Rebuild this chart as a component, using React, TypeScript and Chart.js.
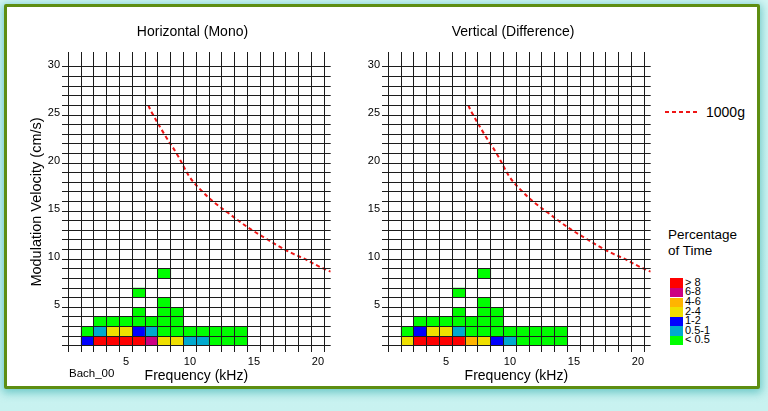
import React, { useEffect, useRef } from 'react';
import { Chart, registerables } from 'chart.js';

Chart.register(...registerables);

const FONT = '"Liberation Sans", Arial, Helvetica, sans-serif';
Chart.defaults.font.family = FONT;

// Frequency columns (kHz), velocity rows (cm/s, lower edge of each row)
const frequencies = [1, 2, 3, 4, 5, 6, 7, 8, 9, 10, 11, 12, 13, 14, 15, 16, 17, 18, 19, 20];
const velocityRows = [1, 2, 3, 4, 5, 6, 7, 8];
const velocityTicks = [1, 2, 3, 4, 5, 6, 7, 8, 9, 10, 11, 12, 13, 14, 15, 16, 17, 18, 19, 20, 21, 22, 23, 24, 25, 26, 27, 28, 29, 30];
const freqLabels = [5, 10, 15, 20];
const velocityLabels = [5, 10, 15, 20, 25, 30];

// Percentage-of-time classes (index = level)
const levelLabels = ['< 0.5', '0.5-1', '1-2', '2-4', '4-6', '6-8', '> 8'];
const levelColors = ['#00ff00', '#00a9cf', '#0000ff', '#efdf00', '#ffb400', '#cc0082', '#ff0000'];

const _ = null;
// Horizontal (Mono): level per frequency column, one array per velocity row
const monoRow1 = [_, 2, 6, 6, 6, 6, 5, 3, 3, 1, 1, 0, 0, 0, _, _, _, _, _, _];
const monoRow2 = [_, 0, 1, 3, 3, 2, 1, 0, 0, 0, 0, 0, 0, 0, _, _, _, _, _, _];
const monoRow3 = [_, _, 0, 0, 0, 0, 0, 0, 0, _, _, _, _, _, _, _, _, _, _, _];
const monoRow4 = [_, _, _, _, _, 0, _, 0, 0, _, _, _, _, _, _, _, _, _, _, _];
const monoRow5 = [_, _, _, _, _, _, _, 0, _, _, _, _, _, _, _, _, _, _, _, _];
const monoRow6 = [_, _, _, _, _, 0, _, _, _, _, _, _, _, _, _, _, _, _, _, _];
const monoRow7 = [_, _, _, _, _, _, _, _, _, _, _, _, _, _, _, _, _, _, _, _];
const monoRow8 = [_, _, _, _, _, _, _, 0, _, _, _, _, _, _, _, _, _, _, _, _];

// Vertical (Difference)
const diffRow1 = [_, 3, 6, 6, 6, 6, 4, 3, 2, 1, 0, 0, 0, 0, _, _, _, _, _, _];
const diffRow2 = [_, 0, 2, 3, 3, 1, 0, 0, 0, 0, 0, 0, 0, 0, _, _, _, _, _, _];
const diffRow3 = [_, _, 0, 0, 0, 0, 0, 0, 0, _, _, _, _, _, _, _, _, _, _, _];
const diffRow4 = [_, _, _, _, _, 0, _, 0, 0, _, _, _, _, _, _, _, _, _, _, _];
const diffRow5 = [_, _, _, _, _, _, _, 0, _, _, _, _, _, _, _, _, _, _, _, _];
const diffRow6 = [_, _, _, _, _, 0, _, _, _, _, _, _, _, _, _, _, _, _, _, _];
const diffRow7 = [_, _, _, _, _, _, _, _, _, _, _, _, _, _, _, _, _, _, _, _];
const diffRow8 = [_, _, _, _, _, _, _, 0, _, _, _, _, _, _, _, _, _, _, _, _];

// 1000g limit curve
const curveFreq = [6.75, 7, 8, 9, 10, 11, 12, 13, 14, 15, 16, 17, 18, 19, 20, 21];
const curveVel = [26, 25.3, 23, 20.9, 18.5, 17, 15.8, 14.8, 13.8, 12.9, 12.1, 11.3, 10.6, 10, 9.3, 8.7];

const GRID = '#1c1c1c';

function Panel({ rows, showYTitle, left }: { rows: (number | null)[][]; showYTitle: boolean; left: number }) {
  const ref = useRef<HTMLCanvasElement>(null);
  useEffect(() => {
    const points: any[] = [];
    const colors: string[] = [];
    rows.forEach((row, ri) => {
      row.forEach((lvl, fi) => {
        if (lvl === null) return;
        points.push({ x: frequencies[fi], y: [velocityRows[ri], velocityRows[ri] + 1] });
        colors.push(levelColors[lvl]);
      });
    });
    const chart = new Chart(ref.current as HTMLCanvasElement, {
      type: 'bar',
      data: {
        datasets: [
          {
            type: 'line',
            data: curveFreq.map((f, i) => ({ x: f, y: curveVel[i] })),
            borderColor: '#ee1515',
            borderWidth: 2,
            borderDash: [4, 3],
            pointRadius: 0,
            tension: 0.35,
            fill: false,
            order: 0,
          } as any,
          {
            type: 'bar',
            data: points,
            backgroundColor: colors,
            borderWidth: 0,
            barPercentage: 1,
            categoryPercentage: 1,
            order: 1,
          } as any,
        ],
      },
      options: {
        animation: false,
        responsive: false,
        maintainAspectRatio: false,
        layout: { padding: { left: 0, right: 9.3, top: 52, bottom: 0 } },
        plugins: { legend: { display: false }, tooltip: { enabled: false }, title: { display: false } },
        scales: {
          x: {
            type: 'linear',
            min: 0,
            max: 21,
            offset: false,
            bounds: 'data',
            afterBuildTicks: (s: any) => {
              s.ticks = frequencies.map((v) => ({ value: v }));
            },
            afterFit: (s: any) => {
              s.height = 59;
            },
            grid: { offset: true, color: GRID, lineWidth: 1, drawTicks: false, z: 1 },
            border: { display: false },
            ticks: {
              autoSkip: false,
              maxRotation: 0,
              padding: 3,
              color: '#000',
              font: { size: 11 },
              callback: (v: any) => (freqLabels.includes(v) ? String(v) : ''),
            },
            title: {
              display: true,
              text: 'Frequency (kHz)',
              color: '#000',
              font: { size: 14 },
              padding: { top: 0, bottom: 26.6 },
            },
          },
          y: {
            type: 'linear',
            min: 0.34,
            max: 31.56,
            bounds: 'data',
            beginAtZero: false,
            afterBuildTicks: (s: any) => {
              s.ticks = velocityTicks.map((v) => ({ value: v }));
            },
            afterFit: (s: any) => {
              s.width = 62;
            },
            grid: { color: GRID, lineWidth: 1, drawTicks: false, z: 1 },
            border: { display: false },
            ticks: {
              autoSkip: false,
              padding: 2,
              labelOffset: -2,
              color: '#000',
              font: { size: 11 },
              callback: (v: any) => (velocityLabels.includes(v) ? String(v) : ''),
            },
            title: {
              display: showYTitle,
              text: 'Modulation Velocity (cm/s)',
              color: '#000',
              font: { size: 14.5 },
              padding: { top: 27.8, bottom: 0 },
            },
          },
        },
      } as any,
    });
    return () => chart.destroy();
  }, []);
  return (
    <canvas
      ref={ref}
      width={340}
      height={411}
      style={{ position: 'absolute', left, top: 0, width: 340, height: 411 }}
    />
  );
}

const txt: React.CSSProperties = { position: 'absolute', fontFamily: FONT, color: '#000', whiteSpace: 'nowrap' };

export default function App() {
  const monoRows = [monoRow1, monoRow2, monoRow3, monoRow4, monoRow5, monoRow6, monoRow7, monoRow8];
  const diffRows = [diffRow1, diffRow2, diffRow3, diffRow4, diffRow5, diffRow6, diffRow7, diffRow8];
  const legendOrder = [6, 5, 4, 3, 2, 1, 0];
  return (
    <div
      style={{
        position: 'fixed',
        left: 0,
        top: 0,
        width: 768,
        height: 411,
        overflow: 'hidden',
        background: 'linear-gradient(180deg, #d4f6f4 0%, #c8f2f0 100%)',
      }}
    >
      <div
        style={{
          position: 'absolute',
          left: 4,
          top: 4,
          width: 750,
          height: 379,
          border: '3px solid #5e8e12',
          background: '#ffffff',
          borderRadius: 2,
          boxShadow: '0 2px 8px 2px rgba(40,170,170,0.55)',
        }}
      />
      <Panel rows={monoRows} showYTitle={true} left={0} />
      <Panel rows={diffRows} showYTitle={false} left={320} />

      <div style={{ ...txt, left: 92.5, width: 200, top: 22, textAlign: 'center', fontSize: 14, lineHeight: '18px' }}>
        Horizontal (Mono)
      </div>
      <div style={{ ...txt, left: 413, width: 200, top: 22, textAlign: 'center', fontSize: 14, lineHeight: '18px' }}>
        Vertical (Difference)
      </div>
      <div style={{ ...txt, left: 69, top: 365, fontSize: 11.5, lineHeight: '16px' }}>Bach_00</div>

      <svg style={{ position: 'absolute', left: 664, top: 106 }} width={36} height={12}>
        <line x1={1} y1={6} x2={35} y2={6} stroke="#ee1515" strokeWidth={2} strokeDasharray="4 3" />
      </svg>
      <div style={{ ...txt, left: 706, top: 103, fontSize: 14, lineHeight: '18px' }}>1000g</div>

      <div style={{ ...txt, left: 668, top: 227, fontSize: 13.5, lineHeight: '15.5px' }}>
        Percentage
        <br />
        of Time
      </div>
      {legendOrder.map((lvl, i) => (
        <React.Fragment key={lvl}>
          <div
            style={{
              position: 'absolute',
              left: 670,
              top: 278.3 + i * 9.6,
              width: 13,
              height: 9.6,
              background: levelColors[lvl],
            }}
          />
          <div style={{ ...txt, left: 685, top: 278.3 + i * 9.6 - 1.5, fontSize: 11, lineHeight: '11px' }}>
            {levelLabels[lvl]}
          </div>
        </React.Fragment>
      ))}
    </div>
  );
}
